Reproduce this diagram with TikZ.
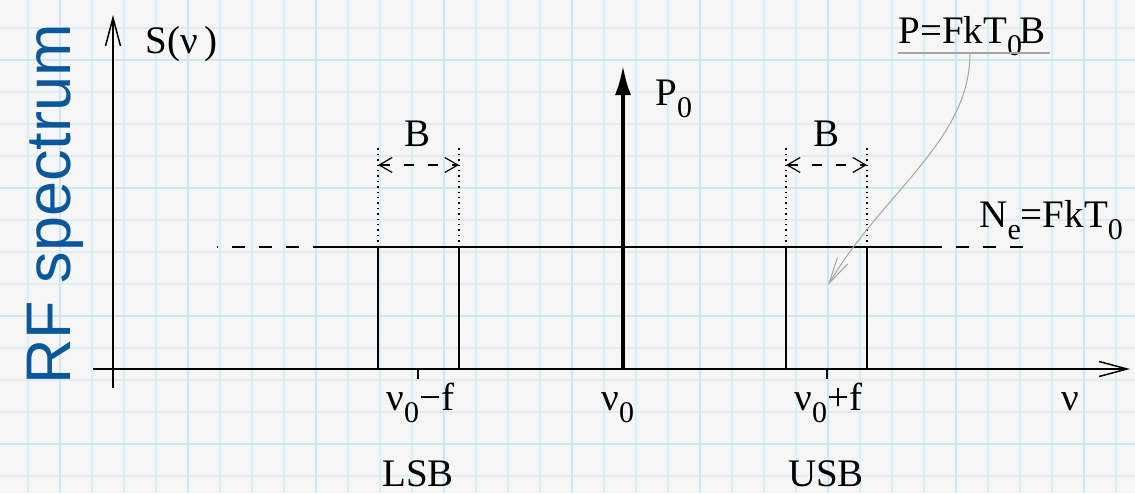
\documentclass[tikz,border=0pt]{standalone}
\usepackage{fontspec}
\setmainfont{Liberation Serif}
\newfontfamily\rffont{Liberation Sans}
\usetikzlibrary{arrows.meta}

\definecolor{paper}{RGB}{246,246,246}
\definecolor{gridminor}{RGB}{220,237,245}
\definecolor{gridmajor}{RGB}{205,230,242}
\definecolor{rfblue}{RGB}{10,88,155}
\definecolor{notegray}{RGB}{165,165,165}
\newcommand{\lowsub}[1]{\raisebox{-0.32em}{\fontsize{15}{15}\selectfont #1}}

\begin{document}
\begin{tikzpicture}[x=0.5pt, y=-0.5pt,
  axis/.style={line width=0.75pt, -{Straight Barb[length=14pt,width=7.5pt]}},
  boxline/.style={line width=0.75pt},
  carrier/.style={line width=2pt, -{Latex[length=15pt,width=8pt]}},
  guide/.style={line width=0.7pt, dotted},
  bwidth/.style={line width=0.6pt, dash pattern=on 5pt off 7pt,
    {Straight Barb[length=6.5pt,width=7.5pt]}-{Straight Barb[length=6.5pt,width=7.5pt]}},
  floorgap/.style={line width=0.7pt, dash pattern=on 6.5pt off 7pt, dash phase=6.5pt},
  note/.style={line width=0.5pt, notegray, -{Straight Barb[length=13pt,width=6pt]}},
  lbl/.style={font=\fontsize{19.5}{20}\selectfont, inner sep=0pt},
  rftitle/.style={font=\rffont\fontsize{31.5}{32}\selectfont, text=rfblue, inner sep=0pt},
]

% === PAPER ===
\useasboundingbox (0,0) rectangle (1135,493);
\fill[paper] (0,0) rectangle (1135,493);
\foreach \gx in {28,60,...,1135} \draw[gridminor, line width=0.6pt] (\gx,0) -- (\gx,493);
\foreach \gy in {28,60,...,493} \draw[gridminor, line width=0.6pt] (0,\gy) -- (1135,\gy);
\foreach \gx in {60,188,...,1135} \draw[gridmajor, line width=1pt] (\gx,0) -- (\gx,493);
\foreach \gy in {60,188,...,493} \draw[gridmajor, line width=1pt] (0,\gy) -- (1135,\gy);

% === AXES ===
\coordinate (ybot) at (113,388);
\coordinate (ytop) at (113,15);
\coordinate (xbeg) at (93,369);
\coordinate (xend) at (1130,369);
\draw[axis] (ybot) -- (ytop);
\draw[axis] (xbeg) -- (xend);

\node[rftitle, rotate=90, anchor=base west] (rf) at (70,385) {RF spectrum};
\node[lbl, anchor=base west] (snu) at (145,53) {S(ν\,)};
\node[lbl, anchor=base] (nu) at (1070,410) {ν};

% === CARRIER ===
\coordinate (car-b) at (623,369);
\coordinate (car-t) at (623,65);
\draw[carrier] (car-b) -- (car-t);
\node[lbl, anchor=base west] (p0) at (655,105) {P\lowsub{0}};
\node[lbl, anchor=base west] (nu0) at (601,410) {ν\lowsub{0}};

% === NOISE FLOOR ===
\coordinate (nf-l) at (217,247);
\coordinate (nf-a) at (313,247);
\coordinate (nf-b) at (942,247);
\coordinate (nf-r) at (1023,247);
\draw[line width=0.7pt] (nf-a) -- (nf-b);
\draw[floorgap] (nf-a) -- (nf-l);
\draw[floorgap] (nf-b) -- (nf-r);
\node[lbl, anchor=base west] (ne) at (979,227) {N\lowsub{e}=FkT\lowsub{0}};

% === LOWER SIDEBAND ===
\coordinate (lsb-bl) at (378,369);
\coordinate (lsb-tl) at (378,247);
\coordinate (lsb-tr) at (459,247);
\coordinate (lsb-br) at (459,369);
\coordinate (lsb-gl) at (378,147);
\coordinate (lsb-gr) at (459,147);
\coordinate (lsb-al) at (378,165);
\coordinate (lsb-ar) at (459,165);
\draw[boxline] (lsb-bl) -- (lsb-tl) -- (lsb-tr) -- (lsb-br);
\draw[guide] (lsb-tl) -- (lsb-gl);
\draw[guide] (lsb-tr) -- (lsb-gr);
\draw[bwidth] (lsb-al) -- (lsb-ar);
\node[lbl, anchor=base] (lsb-b) at (418,146) {B};
\coordinate (lsb-t0) at (418,369);
\coordinate (lsb-t1) at (418,379);
\draw[line width=0.6pt] (lsb-t0) -- (lsb-t1);
\node[lbl, anchor=base west] (lsb-f) at (386,410) {ν\lowsub{0}−f};
\node[lbl, anchor=base] (lsb) at (418,486) {LSB};

% === UPPER SIDEBAND ===
\coordinate (usb-bl) at (786,369);
\coordinate (usb-tl) at (786,247);
\coordinate (usb-tr) at (867,247);
\coordinate (usb-br) at (867,369);
\coordinate (usb-gl) at (786,147);
\coordinate (usb-gr) at (867,147);
\coordinate (usb-al) at (786,165);
\coordinate (usb-ar) at (867,165);
\draw[boxline] (usb-bl) -- (usb-tl) -- (usb-tr) -- (usb-br);
\draw[guide] (usb-tl) -- (usb-gl);
\draw[guide] (usb-tr) -- (usb-gr);
\draw[bwidth] (usb-al) -- (usb-ar);
\node[lbl, anchor=base] (usb-b) at (826,146) {B};
\coordinate (usb-t0) at (827,369);
\coordinate (usb-t1) at (827,379);
\draw[line width=0.6pt] (usb-t0) -- (usb-t1);
\node[lbl, anchor=base west] (usb-f) at (794,410) {ν\lowsub{0}+f};
\node[lbl, anchor=base] (usb) at (826,486) {USB};

% === SIDEBAND POWER NOTE ===
\node[lbl, anchor=base west] (pnote) at (898,43) {P=FkT\lowsub{0}\kern-1.5pt B};
\coordinate (ul-l) at (898,53);
\coordinate (ul-m) at (970,53);
\coordinate (ul-r) at (1050,53);
\coordinate (usb-in) at (828,285);
\draw[notegray, line width=0.6pt] (ul-l) -- (ul-r);
\draw[note] (ul-m) .. controls (970,140) and (885,190) .. (usb-in);
\end{tikzpicture}
\end{document}
